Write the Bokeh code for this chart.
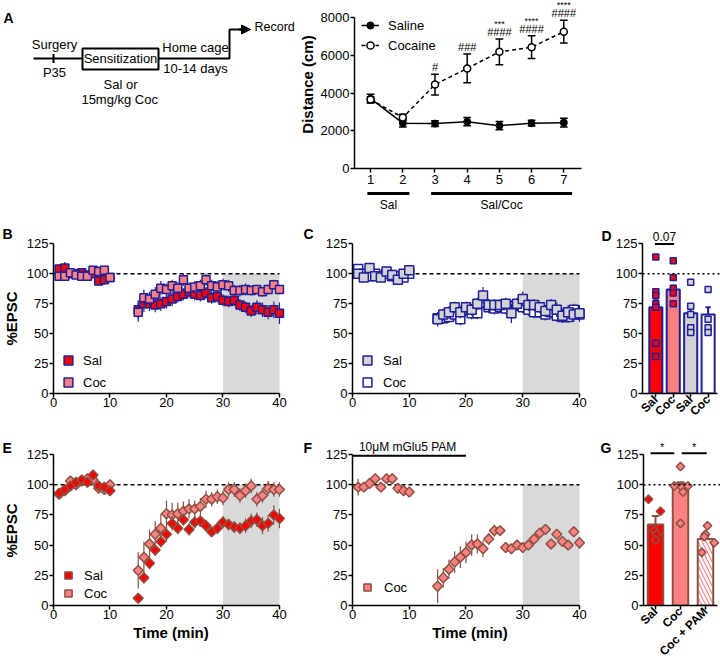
import math
from bokeh.plotting import figure
from bokeh.layouts import row, column
from bokeh.models import (Range1d, FixedTicker, Legend, LegendItem, Arrow,
                          NormalHead, Span, ColumnDataSource, LabelSet)
from bokeh.embed import file_html
from bokeh.resources import INLINE
from bokeh.core.properties import value

FONT = "Liberation Sans"
BLACK = "#000000"
RED = "#ff0000"
PINK = "#ff8080"
NAVY = "#1f1f99"
BROWN = "#8a5144"
LGRAY = "#d3d3d3"
SHADE = "#d9d9d9"

# ---------------- Panel A (locomotor sensitization) ----------------
days = [1, 2, 3, 4, 5, 6, 7]
saline_dist = [3700, 2400, 2380, 2480, 2270, 2400, 2430]
saline_sem = [230, 200, 150, 220, 220, 150, 230]
cocaine_dist = [3650, 2700, 4450, 5300, 6180, 6430, 7250]
cocaine_sem = [150, 170, 550, 760, 680, 600, 600]
sig_hash = ["", "", "#", "###", "####", "####", "####"]
sig_star = ["", "", "", "", "***", "****", "****"]
phase_labels = ["Sal", "Sal/Coc"]
phase_spans = [(0.93, 2.23), (2.9, 7.26)]

# ---------------- time courses ----------------
t_base = [1, 2, 3, 4, 5, 6, 7, 8, 9, 10]
t_post = [15, 16, 17, 18, 19, 20, 21, 22, 23, 24, 25, 26, 27, 28, 29, 30,
          31, 32, 33, 34, 35, 36, 37, 38, 39, 40]
BASELINE = 100
TIME_SPAN = (0, 40)
WINDOW = (30, 40)

B_sal_base = [104, 105, 100, 100, 101, 99, 100, 94, 95, 97]
B_sal_base_err = [4, 5, 3, 3, 3, 3, 3, 4, 4, 3]
B_sal_post = [70, 75, 75, 74, 75, 77, 79, 81, 83, 85, 83, 82, 84, 80, 81, 78,
              77, 78, 74, 72, 69, 72, 70, 68, 70, 67]
B_sal_post_err = [8, 7, 6, 6, 6, 6, 6, 5, 5, 5, 5, 5, 5, 5, 5, 5, 5, 5, 5, 5,
                  5, 6, 6, 6, 7, 9]
B_coc_base = [98, 98, 101, 99, 98, 98, 103, 102, 103, 97]
B_coc_base_err = [3, 3, 3, 3, 3, 3, 3, 3, 3, 3]
B_coc_post = [68, 80, 79, 83, 88, 87, 90, 88, 95, 88, 89, 90, 95, 90, 89, 91,
              90, 86, 86, 87, 86, 87, 85, 87, 91, 87]
B_coc_post_err = [8, 7, 6, 6, 6, 5, 5, 5, 5, 5, 5, 5, 5, 5, 5, 5, 5, 5, 5, 5,
                  4, 4, 4, 4, 4, 4]

C_sal_base = [100, 97, 105, 98, 97, 102, 99, 95, 100, 103]
C_sal_base_err = [4, 3, 3, 3, 3, 3, 3, 3, 3, 3]
C_sal_post = [62, 66, 68, 72, 68, 72, 70, 75, 82, 74, 74, 74, 75, 67, 75, 79,
              74, 74, 72, 69, 74, 70, 65, 68, 66, 67]
C_sal_post_err = [6, 5, 5, 5, 5, 5, 5, 5, 7, 5, 5, 5, 5, 8, 5, 6, 5, 5, 5, 5,
                  5, 6, 6, 6, 6, 7]
C_coc_base = [104, 100, 98, 100, 98, 100, 98, 98, 97, 100]
C_coc_base_err = [3, 3, 3, 3, 3, 3, 3, 3, 3, 3]
C_coc_post = [63, 63, 64, 66, 62, 70, 67, 67, 76, 72, 71, 72, 71, 73, 74, 72,
              70, 68, 68, 66, 68, 65, 64, 64, 70, 66]
C_coc_post_err = [5, 5, 5, 5, 5, 5, 5, 5, 5, 5, 5, 5, 5, 5, 5, 5, 5, 5, 5, 5,
                  5, 5, 5, 5, 5, 5]

E_sal_base = [93, 96, 99, 102, 104, 102, 108, 99, 98, 95]
E_sal_base_err = [3, 3, 3, 3, 3, 3, 3, 3, 3, 3]
E_sal_post = [6, 23, 35, 46, 53, 59, 68, 64, 71, 63, 69, 70, 66, 61, 64, 69,
              67, 65, 64, 66, 70, 71, 66, 68, 75, 72]
E_sal_post_err = [4, 5, 5, 5, 5, 6, 6, 5, 5, 5, 5, 5, 5, 4, 5, 5, 5, 5, 5, 6,
                  6, 6, 7, 7, 8, 8]
E_coc_base = [92, 95, 103, 100, 103, 105, 104, 97, 96, 100]
E_coc_base_err = [3, 3, 3, 3, 3, 3, 3, 3, 3, 3]
E_coc_post = [29, 40, 51, 59, 64, 76, 75, 76, 78, 80, 80, 82, 88, 88, 90, 89,
              96, 96, 91, 95, 99, 88, 91, 97, 96, 96]
E_coc_post_err = [15, 13, 12, 11, 12, 11, 10, 9, 8, 8, 7, 7, 7, 6, 6, 6, 6, 6,
                  6, 6, 6, 6, 6, 6, 6, 6]

F_coc_base = [98, 98, 101, 105, 98, 105, 105, 97, 95, 94]
F_coc_base_err = [7, 3, 3, 3, 3, 3, 3, 3, 3, 3]
F_coc_post = [16, 23, 30, 36, 40, 44, 50, 51, 47, 55, 62, 62, 48, 47, 50, 48,
              50, 55, 60, 63, 51, 59, 53, 50, 61, 52]
F_coc_post_err = [14, 8, 8, 9, 9, 9, 9, 8, 7, 5, 5, 3, 4, 4, 4, 4, 3, 3, 3, 3,
                  3, 3, 3, 4, 4, 5]
F_drug_span = (0, 20)
F_drug_label = "10\u03bcM mGlu5  PAM"

# ---------------- bar panels ----------------
D_groups = ["Sal", "Coc", "Sal", "Coc"]
D_means = [72, 87, 67, 66]
D_sem = [6, 3, 4, 6]
D_points = [[114, 85, 82, 75, 72, 42, 31],
            [111, 97, 88, 84, 75],
            [93, 73, 66, 55, 51],
            [87, 62, 55, 51]]
D_bar_fill = [RED, PINK, LGRAY, "#ffffff"]
D_pt_fill = [RED, RED, LGRAY, LGRAY]
D_sig = "0.07"

G_groups = ["Sal", "Coc", "Coc + PAM"]
G_means = [67, 101, 55]
G_sem = [7, 1, 3]
G_points = [[88, 78, 62, 59, 54],
            [115, 99, 98, 94, 99, 68],
            [66, 59, 57, 52, 44]]
G_jitter = [[-0.28, 0.2, -0.05, 0.05, 0.0],
            [0.0, -0.25, 0.05, 0.1, 0.3, 0.0],
            [0.08, 0.0, -0.05, 0.35, -0.15]]
G_bar_fill = [RED, PINK, PINK]
G_hatch = [" ", " ", "\\"]
G_pt_fill = [RED, PINK, PINK]

TXT = dict(text_font=value(FONT), text_color=BLACK)


def make_fig(w, h, xr, yr, ml, mr, mt, mb):
    p = figure(width=w, height=h, x_range=Range1d(*xr), y_range=Range1d(*yr),
               output_backend="svg", toolbar_location=None, title=None,
               min_border_left=ml, min_border_right=mr,
               min_border_top=mt, min_border_bottom=mb)
    p.frame_align = False
    p.outline_line_color = None
    p.xgrid.visible = False
    p.ygrid.visible = False
    for ax in p.axis:
        ax.axis_line_width = 1.5
        ax.axis_line_color = BLACK
        ax.major_tick_line_width = 1.5
        ax.major_tick_line_color = BLACK
        ax.major_tick_out = 4
        ax.major_tick_in = 0
        ax.minor_tick_out = 0
        ax.minor_tick_in = 0
        ax.major_label_text_font = FONT
        ax.major_label_text_font_size = "13px"
        ax.major_label_text_color = BLACK
        ax.major_label_standoff = 1
        ax.axis_label_text_font = FONT
        ax.axis_label_text_font_style = "bold"
        ax.axis_label_text_font_size = "15px"
        ax.axis_label_text_color = BLACK
        ax.axis_label_standoff = 2
    return p


def side_fig(x0, x1, ftop, fbot, h, mt, mb):
    """Axis-less strip whose data coordinates are page pixels."""
    p = figure(width=x1 - x0, height=h, x_range=Range1d(x0, x1),
               y_range=Range1d(fbot, ftop), output_backend="svg",
               toolbar_location=None, title=None, x_axis_location=None,
               y_axis_location=None, min_border_left=0, min_border_right=0,
               min_border_top=mt, min_border_bottom=mb)
    p.frame_align = False
    p.outline_line_color = None
    p.grid.visible = False
    return p


def letter(p, txt, x, y):
    p.text(x=[x], y=[y], text=[txt], text_font_style="bold", text_font_size="14px",
           text_align="left", text_baseline="middle", **TXT)


def ylabel(p, txt, x, y):
    p.text(x=[x], y=[y], text=[txt], angle=math.pi / 2, text_font_style="bold",
           text_font_size="15px", text_align="center", text_baseline="middle", **TXT)


def series(p, t, y, e, fill, edge, size, marker, angle):
    lo = [a - b for a, b in zip(y, e)]
    hi = [a + b for a, b in zip(y, e)]
    p.segment(x0=t, y0=lo, x1=t, y1=hi, line_color=edge, line_width=1.2)
    return p.scatter(x=t, y=y, marker=marker, size=size, angle=angle,
                     fill_color=fill, line_color=edge, line_width=1.5)


def add_legend(p, items, vx, vy, gw, gh, spacing, standoff):
    lg = Legend(items=[LegendItem(label=l, renderers=r) for l, r in items],
                location=(vx, vy))
    lg.background_fill_alpha = 0
    lg.border_line_color = None
    lg.padding = 0
    lg.margin = 0
    lg.glyph_width = gw
    lg.glyph_height = gh
    lg.label_height = gh
    lg.spacing = spacing
    lg.label_standoff = standoff
    lg.label_text_font = FONT
    lg.label_text_font_size = "13px"
    lg.label_text_color = BLACK
    p.add_layout(lg)


def time_panel(p):
    p.quad(left=[WINDOW[0]], right=[WINDOW[1]], bottom=[0], top=[BASELINE],
           fill_color=SHADE, line_color=None)
    p.line(list(TIME_SPAN), [BASELINE, BASELINE], line_color=BLACK,
           line_dash="4 3", line_width=1.5)
    p.xaxis.ticker = FixedTicker(ticks=[0, 10, 20, 30, 40])
    p.yaxis.ticker = FixedTicker(ticks=[0, 25, 50, 75, 100, 125])
    p.xaxis.bounds = TIME_SPAN
    p.yaxis.bounds = (0, 125)
    p.xaxis.major_label_standoff = 0


def bar_panel(p, xs, means, sem, fills, edge, width, hatch=None):
    data = dict(x=xs, top=means, fill=fills)
    kw = {}
    if hatch is not None:
        data["hatch"] = hatch
        kw = dict(hatch_pattern="hatch", hatch_color="white", hatch_weight=2.5,
                  hatch_scale=8)
    p.vbar(x="x", top="top", width=width, fill_color="fill", line_color=edge,
           line_width=2, source=ColumnDataSource(data), **kw)
    hi = [m + s for m, s in zip(means, sem)]
    p.segment(x0=xs, y0=means, x1=xs, y1=hi, line_color=edge, line_width=2)
    p.segment(x0=[x - 0.15 for x in xs], y0=hi, x1=[x + 0.15 for x in xs], y1=hi,
              line_color=edge, line_width=2)
    p.add_layout(Span(location=BASELINE, dimension="width", line_color=BLACK,
                      line_dash="2 3", line_width=1.5))
    p.xaxis.ticker = FixedTicker(ticks=xs)
    p.xaxis.major_label_orientation = math.pi / 4
    p.xaxis.major_label_text_font_style = "bold"
    p.xaxis.major_label_text_font_size = "12px"
    p.xaxis.major_label_standoff = 0
    p.yaxis.ticker = FixedTicker(ticks=[0, 25, 50, 75, 100, 125])
    p.yaxis.bounds = (0, 125)


# ================= Row 1 (page y 0..215) =================
diag = side_fig(0, 295, 0, 168, 215, 0, 47)
diag.line([33, 82], [58, 58], line_color=BLACK, line_width=2)
diag.segment(x0=[53], y0=[53.5], x1=[53], y1=[62.5], line_color=BLACK, line_width=2)
diag.quad(left=[82], right=[158], top=[48], bottom=[69], fill_color=None,
          line_color=BLACK, line_width=2)
diag.line([158, 229, 229, 242], [58, 58, 29, 29], line_color=BLACK, line_width=2)
diag.add_layout(Arrow(end=NormalHead(size=9, fill_color=BLACK, line_color=BLACK),
                      x_start=238, y_start=29, x_end=250, y_end=29,
                      line_color=BLACK, line_width=2))
diag.text(x=[54, 54, 120, 195, 195, 120, 121], y=[44, 72, 58, 47, 68, 84, 99],
          text=["Surgery", "P35", "Sensitization", "Home cage", "10-14 days",
                "Sal or", "15mg/kg  Coc"],
          text_font_size="13px", text_align="center", text_baseline="middle", **TXT)
diag.text(x=[254], y=[26], text=["Record"], text_font_size="12.5px",
          text_align="left", text_baseline="middle", **TXT)
letter(diag, "A", 3, 17)

pA = make_fig(425, 190, (0.5, 7.55), (0, 8901), 58, 139, 0, 22)
pA.xaxis.ticker = FixedTicker(ticks=days)
pA.yaxis.ticker = FixedTicker(ticks=[0, 2000, 4000, 6000, 8000])
pA.yaxis.bounds = (0, 8000)
pA.yaxis.axis_label = "Distance (cm)"
pA.xaxis.major_label_standoff = 2
cap = 0.12
for vals, sem in ((saline_dist, saline_sem), (cocaine_dist, cocaine_sem)):
    lo = [v - s for v, s in zip(vals, sem)]
    hi = [v + s for v, s in zip(vals, sem)]
    pA.segment(x0=days, y0=lo, x1=days, y1=hi, line_color=BLACK, line_width=1.5)
    pA.segment(x0=[d - cap for d in days], y0=lo, x1=[d + cap for d in days], y1=lo,
               line_color=BLACK, line_width=1.5)
    pA.segment(x0=[d - cap for d in days], y0=hi, x1=[d + cap for d in days], y1=hi,
               line_color=BLACK, line_width=1.5)
l_sal = pA.line(days, saline_dist, line_color=BLACK, line_width=1.5)
s_sal = pA.scatter(days, saline_dist, marker="circle", size=7, fill_color=BLACK,
                   line_color=BLACK)
l_coc = pA.line(days, cocaine_dist, line_color=BLACK, line_width=1.5, line_dash="4 3")
s_coc = pA.scatter(days, cocaine_dist, marker="circle", size=7, fill_color="white",
                   line_color=BLACK, line_width=1.5)
add_legend(pA, [("Saline", [l_sal, s_sal]), ("Cocaine", [l_coc, s_coc])],
           7, 114, 18, 18, 2, 9)
sig_src = ColumnDataSource(dict(x=days, y=[v + s for v, s in zip(cocaine_dist, cocaine_sem)],
                                h=sig_hash, s=sig_star))
pA.add_layout(LabelSet(x="x", y="y", text="h", source=sig_src, y_offset=7,
                       text_align="center", text_baseline="middle",
                       text_font=value(FONT), text_font_size="11px", text_color=BLACK))
pA.add_layout(LabelSet(x="x", y="y", text="s", source=sig_src, y_offset=15,
                       text_align="center", text_baseline="middle",
                       text_font=value(FONT), text_font_size="9px", text_color=BLACK))

pAs = figure(width=425, height=25, x_range=pA.x_range, y_range=Range1d(215, 190),
             output_backend="svg", toolbar_location=None, title=None,
             x_axis_location=None, y_axis_location=None, min_border_left=58,
             min_border_right=139, min_border_top=0, min_border_bottom=0)
pAs.frame_align = False
pAs.outline_line_color = None
pAs.grid.visible = False
pAs.segment(x0=[a for a, b in phase_spans], x1=[b for a, b in phase_spans],
            y0=[193] * len(phase_spans), y1=[193] * len(phase_spans),
            line_color=BLACK, line_width=3)
pAs.text(x=[(a + b) / 2 for a, b in phase_spans], y=[204] * len(phase_spans),
         text=phase_labels, text_font_size="12px", text_align="center",
         text_baseline="middle", **TXT)

# ================= Row 2 (page y 215..427) =================
R2_H, R2_T, R2_B = 212, 8, 34
F2_TOP, F2_BOT = 223, 393
y2 = (0, 142.1)

LB = side_fig(0, 20, F2_TOP, F2_BOT, R2_H, R2_T, R2_B)
letter(LB, "B", 2, 233)
ylabel(LB, "%EPSC", 11, 318)

pB = make_fig(278, R2_H, (0, 41.6), y2, 33, 10, R2_T, R2_B)
time_panel(pB)
r1 = series(pB, t_base + t_post, B_sal_base + B_sal_post, B_sal_base_err + B_sal_post_err,
            RED, NAVY, 8, "square", 0)
r2 = series(pB, t_base + t_post, B_coc_base + B_coc_post, B_coc_base_err + B_coc_post_err,
            PINK, NAVY, 8, "square", 0)
add_legend(pB, [("Sal", [r1]), ("Coc", [r2])], 4, 0, 22, 22, -4, 4)

LC = side_fig(298, 318, F2_TOP, F2_BOT, R2_H, R2_T, R2_B)
letter(LC, "C", 303, 233)

pC = make_fig(282, R2_H, (0, 41.41), y2, 34, 13, R2_T, R2_B)
time_panel(pC)
r4 = series(pC, t_base + t_post, C_coc_base + C_coc_post, C_coc_base_err + C_coc_post_err,
            "#ffffff", NAVY, 9, "square", 0)
r3 = series(pC, t_base + t_post, C_sal_base + C_sal_post, C_sal_base_err + C_sal_post_err,
            LGRAY, NAVY, 9, "square", 0)
add_legend(pC, [("Sal", [r3]), ("Coc", [r4])], 4, 0, 22, 22, -6, 5)

LD = side_fig(600, 612, F2_TOP, F2_BOT, R2_H, R2_T, R2_B)
letter(LD, "D", 601, 235)

D_x = [1, 2, 3, 4]
pD = make_fig(108, R2_H, (0.236, 4.71), y2, 26, 0, R2_T, R2_B)
bar_panel(pD, D_x, D_means, D_sem, D_bar_fill, NAVY, 0.75)
pD.xaxis.bounds = (0.236, 4.55)
pD.xaxis.major_label_overrides = {x: g for x, g in zip(D_x, D_groups)}
for x, pts, fc in zip(D_x, D_points, D_pt_fill):
    pD.scatter([x] * len(pts), pts, marker="square", size=6, fill_color=fc,
               line_color=NAVY, line_width=1.5)
pD.segment(x0=[0.95], y0=[125], x1=[2.05], y1=[125], line_color=BLACK, line_width=2)
pD.text(x=[1.5], y=[131.5], text=[D_sig], text_font_size="12px",
        text_align="center", text_baseline="middle", **TXT)

# ================= Row 3 (page y 427..666) =================
R3_H, R3_T, R3_B = 239, 13, 61
F3_TOP, F3_BOT = 440, 605
y3 = (0, 136.6)

LE = side_fig(0, 20, F3_TOP, F3_BOT, R3_H, R3_T, R3_B)
letter(LE, "E", 2, 447)
ylabel(LE, "%EPSC", 11, 530)

pE = make_fig(278, R3_H, (0, 41.6), y3, 33, 10, R3_T, R3_B)
time_panel(pE)
pE.xaxis.axis_label = "Time (min)"
r6 = series(pE, t_base + t_post, E_coc_base + E_coc_post, E_coc_base_err + E_coc_post_err,
            PINK, BROWN, 7, "square", math.pi / 4)
r5 = series(pE, t_base + t_post, E_sal_base + E_sal_post, E_sal_base_err + E_sal_post_err,
            RED, BROWN, 7, "square", math.pi / 4)
add_legend(pE, [("Sal", [r5]), ("Coc", [r6])], 6, 3, 18, 18, -2, 7)

LF = side_fig(298, 318, F3_TOP, F3_BOT, R3_H, R3_T, R3_B)
letter(LF, "F", 303, 447)

pF = make_fig(282, R3_H, (0, 41.41), y3, 34, 13, R3_T, R3_B)
time_panel(pF)
pF.xaxis.axis_label = "Time (min)"
r7 = series(pF, t_base + t_post, F_coc_base + F_coc_post, F_coc_base_err + F_coc_post_err,
            PINK, BROWN, 7, "square", math.pi / 4)
add_legend(pF, [("Coc", [r7])], 6, 9, 18, 18, 0, 8)
pF.segment(x0=[F_drug_span[0]], y0=[124], x1=[F_drug_span[1]], y1=[124],
           line_color=BLACK, line_width=2)
pF.text(x=[sum(F_drug_span) / 2], y=[131.2], text=[F_drug_label],
        text_font_size="12px", text_align="center", text_baseline="middle", **TXT)

LG = side_fig(600, 612, F3_TOP, F3_BOT, R3_H, R3_T, R3_B)
letter(LG, "G", 600, 447)

G_x = [1, 2, 3]
pG = make_fig(108, R3_H, (0.52, 3.6), y3, 31, 0, R3_T, R3_B)
bar_panel(pG, G_x, G_means, G_sem, G_bar_fill, BROWN, 0.62, hatch=G_hatch)
pG.xaxis.bounds = (0.52, 3.48)
pG.xaxis.major_label_overrides = {x: g for x, g in zip(G_x, G_groups)}
for x, pts, jit, fc in zip(G_x, G_points, G_jitter, G_pt_fill):
    pG.scatter([x + j for j in jit], pts, marker="square", angle=math.pi / 4, size=6,
               fill_color=fc, line_color=BROWN, line_width=1.5)
pG.segment(x0=[0.8, 2.05], y0=[126, 126], x1=[1.75, 3.05], y1=[126, 126],
           line_color=BLACK, line_width=2)
pG.text(x=[1.27, 2.55], y=[131, 131], text=["*", "*"], text_font_size="11px",
        text_align="center", text_baseline="middle", **TXT)

layout = column(row(diag, column(pA, pAs)),
                row(LB, pB, LC, pC, LD, pD),
                row(LE, pE, LF, pF, LG, pG))
open("out.html", "w").write(file_html(layout, INLINE))
